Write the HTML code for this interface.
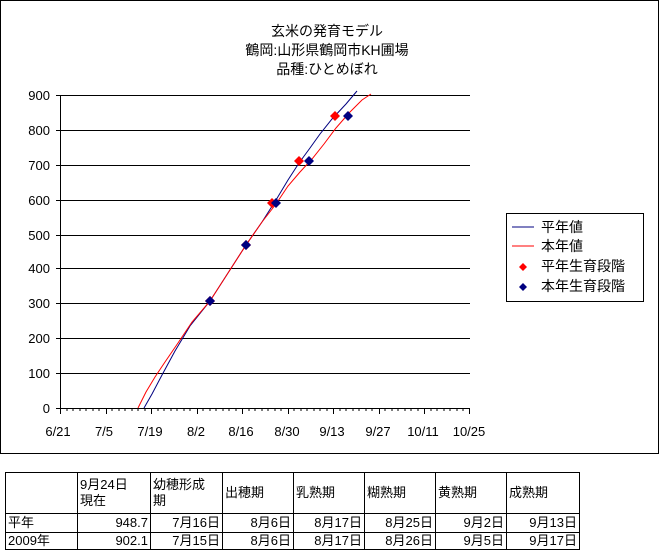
<!DOCTYPE html><html><head><meta charset="utf-8"><style>
body{margin:0;width:660px;height:556px;background:#fff;position:relative;font-family:"Liberation Sans","Noto Sans CJK JP",sans-serif;overflow:hidden}
table{position:absolute;left:5px;top:472px;border-collapse:collapse;font-size:13px;table-layout:fixed;width:574px}
td{border:1px solid #000;padding:0 2px;line-height:16px;vertical-align:middle;overflow:hidden;white-space:nowrap}
td.r{text-align:right}
</style></head><body>
<svg width="660" height="556" style="position:absolute;left:0;top:0" font-family="Liberation Sans, Noto Sans CJK JP, sans-serif">
<rect x="0.5" y="0.5" width="658" height="453" fill="#fff" stroke="#000"/>
<g font-size="14" text-anchor="middle" fill="#000">
<text x="327" y="36">玄米の発育モデル</text>
<text x="327" y="55">鶴岡:山形県鶴岡市KH圃場</text>
<text x="327" y="74">品種:ひとめぼれ</text>
</g>
<g stroke="#000" stroke-width="1">
<line x1="60" y1="95.5" x2="470" y2="95.5"/><line x1="60" y1="130.5" x2="470" y2="130.5"/><line x1="60" y1="165.5" x2="470" y2="165.5"/><line x1="60" y1="200.5" x2="470" y2="200.5"/><line x1="60" y1="235.5" x2="470" y2="235.5"/><line x1="60" y1="268.5" x2="470" y2="268.5"/><line x1="60" y1="303.5" x2="470" y2="303.5"/><line x1="60" y1="338.5" x2="470" y2="338.5"/><line x1="60" y1="373.5" x2="470" y2="373.5"/><line x1="60" y1="408.5" x2="470" y2="408.5"/>
<line x1="60.5" y1="95" x2="60.5" y2="408"/>
</g>
<g stroke="#000">
<path d="M56 95.5h4M56 130.5h4M56 165.5h4M56 200.5h4M56 235.5h4M56 268.5h4M56 303.5h4M56 338.5h4M56 373.5h4M56 408.5h4"/>
<path d="M60.5 408v6M106.5 408v6M151.5 408v6M197.5 408v6M242.5 408v6M288.5 408v6M333.5 408v6M379.5 408v6M424.5 408v6M469.5 408v6"/>
<path d="M67 408v3M73 408v3M80 408v3M86 408v3M93 408v3M99 408v3M112 408v3M119 408v3M125 408v3M132 408v3M138 408v3M145 408v3M158 408v3M164 408v3M171 408v3M177 408v3M184 408v3M190 408v3M203 408v3M210 408v3M216 408v3M223 408v3M229 408v3M236 408v3M249 408v3M255 408v3M262 408v3M268 408v3M275 408v3M281 408v3M294 408v3M301 408v3M307 408v3M314 408v3M320 408v3M327 408v3M340 408v3M346 408v3M353 408v3M359 408v3M366 408v3M372 408v3M385 408v3M392 408v3M398 408v3M405 408v3M411 408v3M418 408v3M431 408v3M437 408v3M444 408v3M450 408v3M457 408v3M463 408v3"/>
</g>
<g font-size="13" text-anchor="end" fill="#000">
<text x="50" y="100">900</text><text x="50" y="135">800</text><text x="50" y="170">700</text><text x="50" y="205">600</text><text x="50" y="240">500</text><text x="50" y="273">400</text><text x="50" y="308">300</text><text x="50" y="343">200</text><text x="50" y="378">100</text><text x="50" y="413">0</text>
</g>
<g font-size="13" text-anchor="middle" fill="#000">
<text x="58" y="436">6/21</text><text x="104" y="436">7/5</text><text x="150" y="436">7/19</text><text x="196" y="436">8/2</text><text x="241" y="436">8/16</text><text x="287" y="436">8/30</text><text x="332" y="436">9/13</text><text x="378" y="436">9/27</text><text x="423" y="436">10/11</text><text x="469" y="436">10/25</text>
</g>
<polyline fill="none" stroke="#000080" stroke-width="1" points="144,408 152,394 162,375 175,351 190,326 210,301 228,273 246,245 262,222 276,200 288,180 299,163 310,148 320,134 332,119 346,104 357,91"/>
<polyline fill="none" stroke="#ff0000" stroke-width="1" points="138,408 146,392 155,377 165,362 178,343 192,322 210,301 228,273 246,245 262,222 276,204 288,186 300,172 312,159 324,144 336,128 350,112 362,100 371,94"/>
<g fill="#ff0000"><path d="M272 198l5 5-5 5-5-5z"/><path d="M299 156l5 5-5 5-5-5z"/><path d="M335 111l5 5-5 5-5-5z"/><path d="M246 240l5 5-5 5-5-5z"/><path d="M210 296l5 5-5 5-5-5z"/></g>
<g fill="#000080"><path d="M210 296l5 5-5 5-5-5z"/><path d="M246 240l5 5-5 5-5-5z"/><path d="M276 198l5 5-5 5-5-5z"/><path d="M309 156l5 5-5 5-5-5z"/><path d="M348 111l5 5-5 5-5-5z"/></g>
<rect x="506.5" y="213.5" width="137" height="88" fill="#fff" stroke="#000"/>
<line x1="512" y1="227" x2="534" y2="227" stroke="#000080"/>
<line x1="512" y1="246" x2="534" y2="246" stroke="#ff0000"/>
<path d="M523 263l4 4-4 4-4-4z" fill="#ff0000"/>
<path d="M523 283l4 4-4 4-4-4z" fill="#000080"/>
<g font-size="14" fill="#000"><text x="541" y="232">平年値</text><text x="541" y="251">本年値</text><text x="541" y="271">平年生育段階</text><text x="541" y="291">本年生育段階</text></g>
</svg>
<table>
<colgroup><col style="width:72px"><col style="width:73px"><col style="width:72px"><col style="width:71px"><col style="width:71px"><col style="width:71px"><col style="width:71px"><col style="width:73px"></colgroup>
<tr style="height:41px"><td></td><td>9月24日<br>現在</td><td>幼穂形成<br>期</td><td>出穂期</td><td>乳熟期</td><td>糊熟期</td><td>黄熟期</td><td>成熟期</td></tr>
<tr style="height:19px"><td>平年</td><td class="r">948.7</td><td class="r">7月16日</td><td class="r">8月6日</td><td class="r">8月17日</td><td class="r">8月25日</td><td class="r">9月2日</td><td class="r">9月13日</td></tr>
<tr style="height:17px"><td>2009年</td><td class="r">902.1</td><td class="r">7月15日</td><td class="r">8月6日</td><td class="r">8月17日</td><td class="r">8月26日</td><td class="r">9月5日</td><td class="r">9月17日</td></tr>
</table>
</body></html>
